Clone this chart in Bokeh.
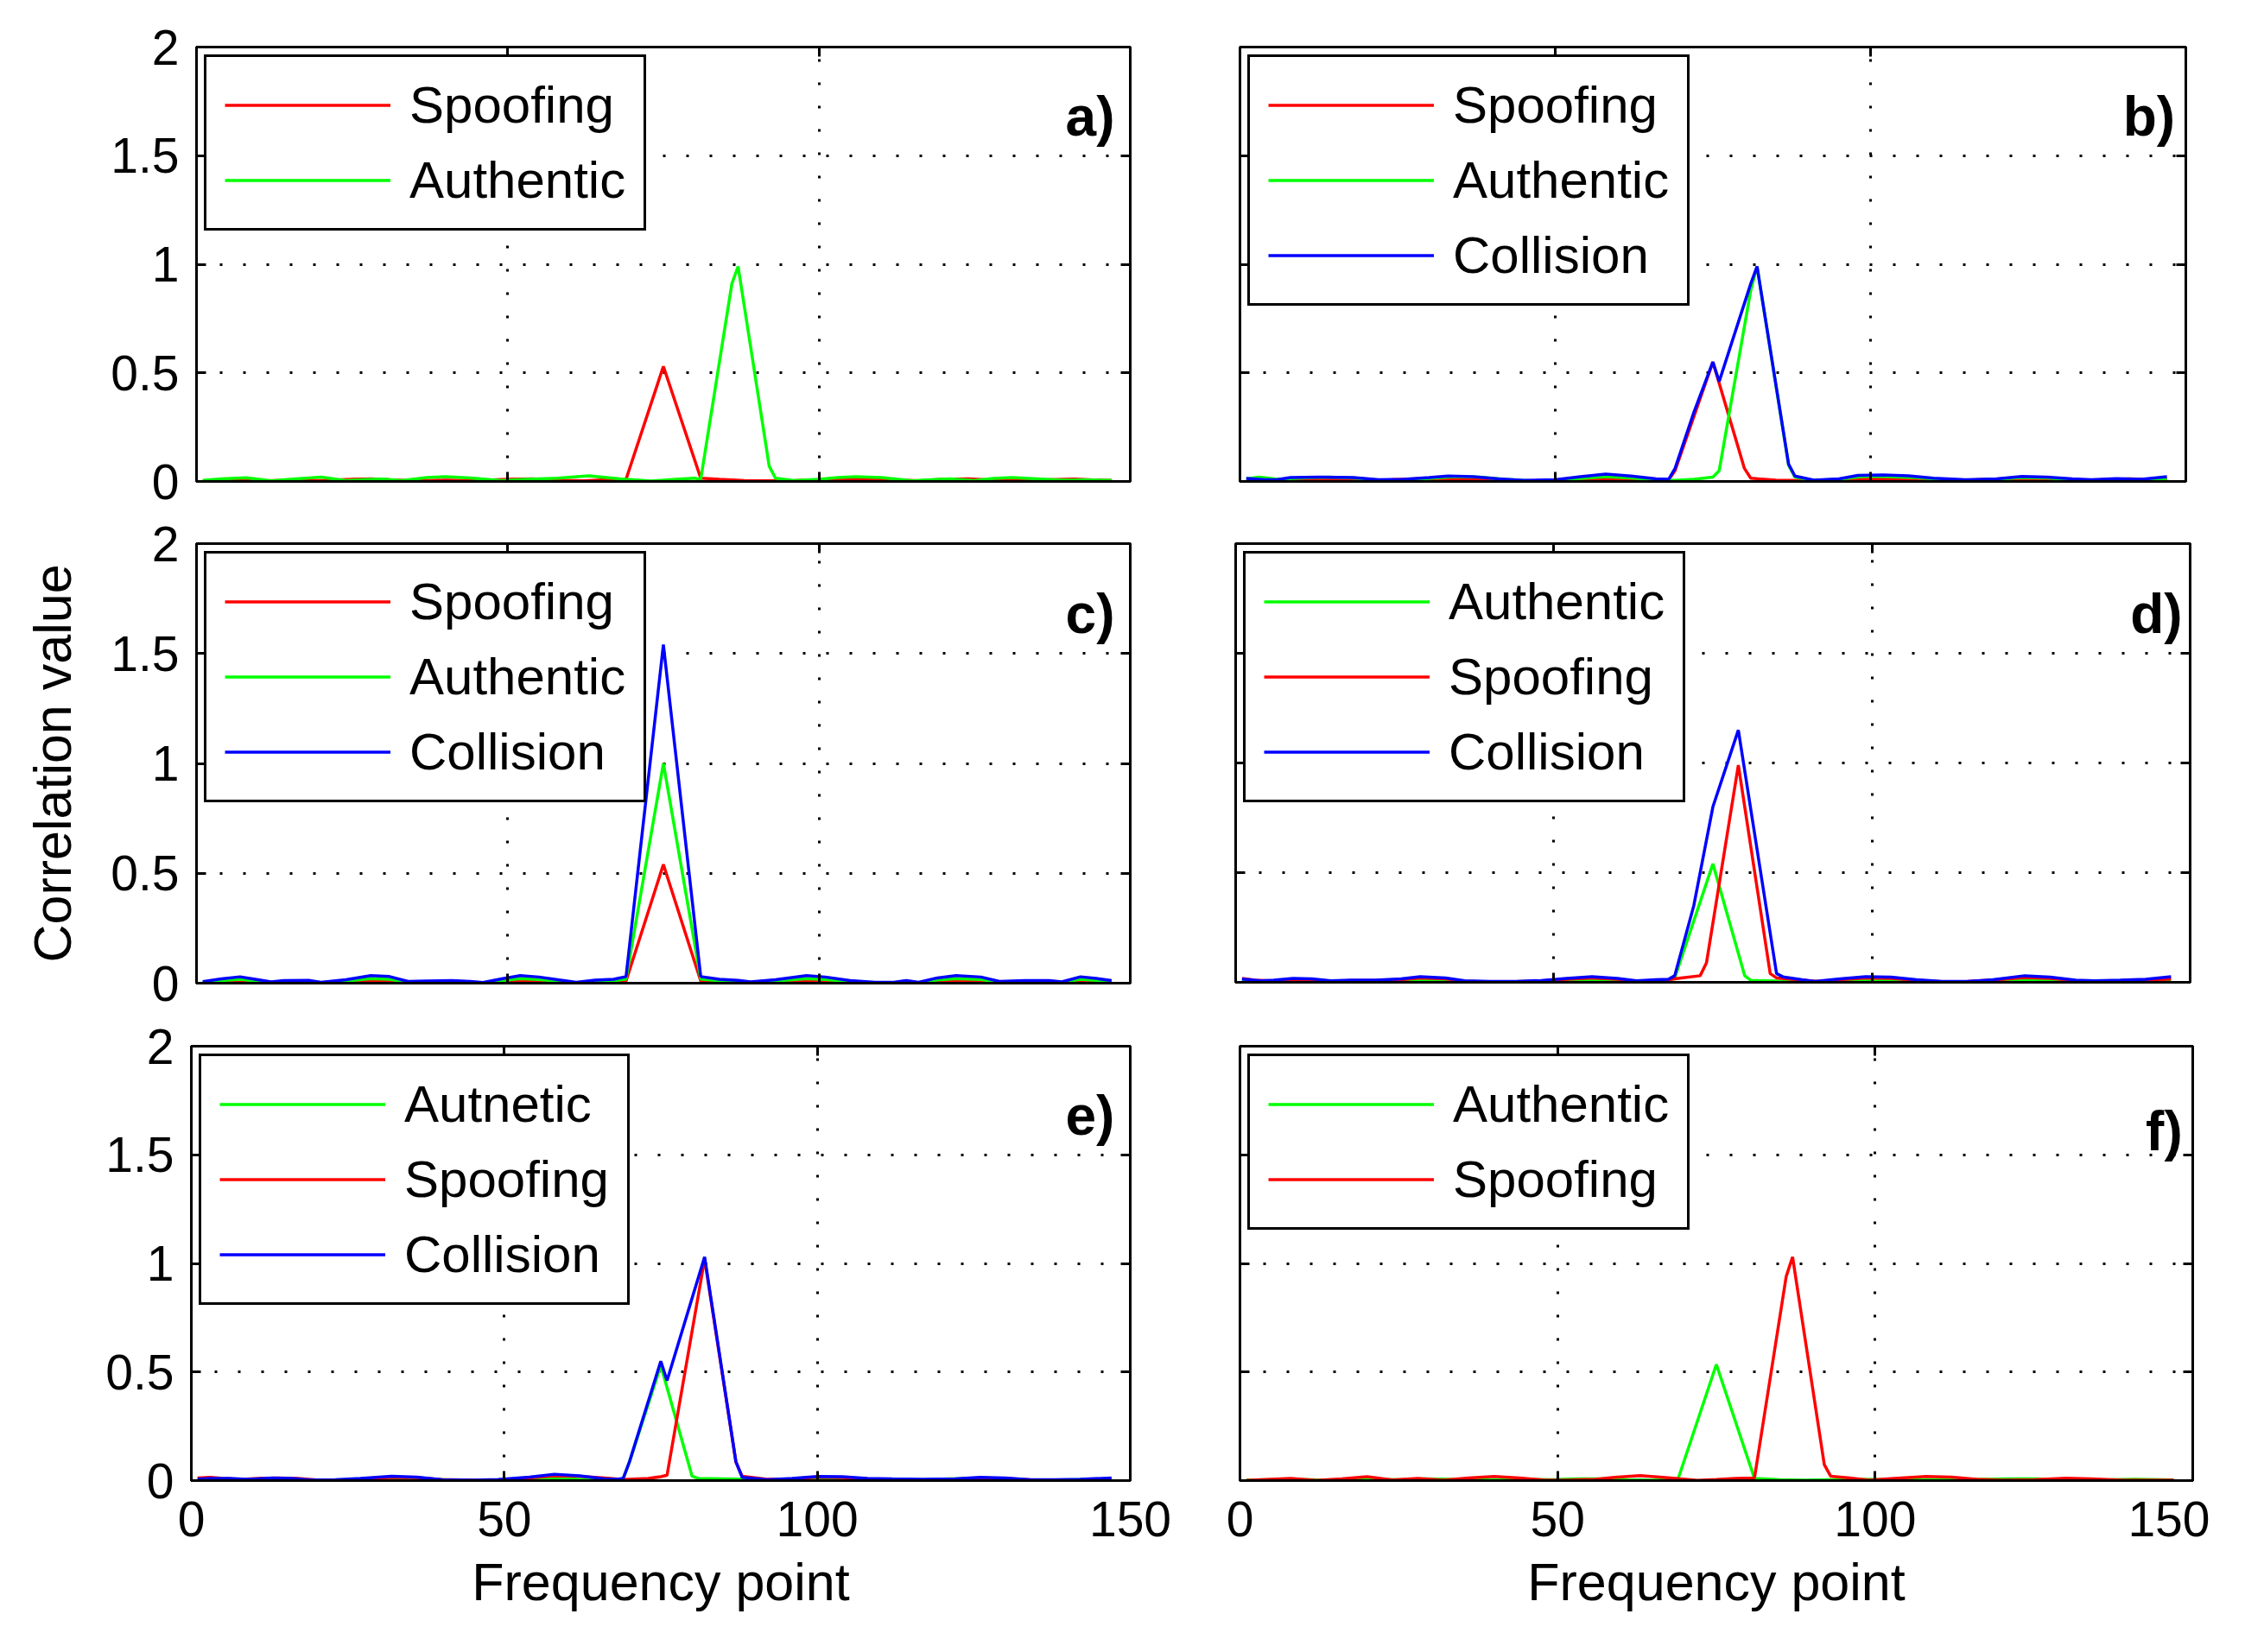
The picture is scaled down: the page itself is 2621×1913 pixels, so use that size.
from bokeh.plotting import figure
from bokeh.layouts import column, row
from bokeh.models import Range1d, FixedTicker, Legend, LegendItem, Label, LinearAxis
from bokeh.embed import file_html
from bokeh.resources import INLINE

RED = "#ff0000"
GREEN = "#00ff00"
BLUE = "#0000ff"
FONT = "Liberation Sans"

X_TICKS = [0, 50, 100, 150]
X_TICK_LABELS = ["0", "50", "100", "150"]
Y_TICKS = [0, 0.5, 1, 1.5, 2]
Y_TICK_LABELS = ["0", "0.5", "1", "1.5", "2"]
X_GRID = [50, 100]
Y_GRID = [0.5, 1, 1.5]

# ---------------- panel a ----------------
A_SPOOF_X = [1, 6, 10, 15, 20, 25, 28, 31, 35, 40, 45, 50, 54, 58, 62, 66, 69, 75, 81, 84, 88, 92, 96, 100, 104, 108, 112, 116, 120, 124, 128, 132, 137, 141, 144, 147]
A_SPOOF_Y = [0.002, 0.004, 0.002, 0.006, 0.004, 0.01, 0.012, 0.008, 0.003, 0.006, 0.004, 0.01, 0.012, 0.006, 0.003, 0.008, 0.01, 0.53, 0.015, 0.01, 0.004, 0.003, 0.004, 0.008, 0.012, 0.013, 0.008, 0.003, 0.01, 0.012, 0.006, 0.003, 0.008, 0.011, 0.007, 0.005]
A_AUTH_X = [1, 4, 8, 12, 16, 20, 24, 28, 30, 33, 37, 40, 44, 49, 53, 58, 63, 68, 73, 77, 80, 81, 86, 87, 92, 93, 96, 100, 103, 106, 110, 115, 118, 121, 125, 128, 131, 135, 139, 143, 147]
A_AUTH_Y = [0.005, 0.012, 0.017, 0.003, 0.012, 0.02, 0.004, 0.01, 0.011, 0.004, 0.018, 0.022, 0.016, 0.004, 0.01, 0.015, 0.026, 0.012, 0.002, 0.01, 0.015, 0.01, 0.91, 0.99, 0.07, 0.015, 0.004, 0.01, 0.018, 0.022, 0.018, 0.003, 0.008, 0.012, 0.004, 0.014, 0.018, 0.012, 0.006, 0.007, 0.005]

# ---------------- panel b ----------------
B_SPOOF_X = [1, 5, 9, 14, 19, 24, 28, 32, 36, 40, 45, 50, 54, 58, 62, 66, 68, 69, 75, 80, 81, 85, 89, 93, 97, 101, 105, 109, 113, 117, 121, 125, 129, 133, 137, 141, 144, 147]
B_SPOOF_Y = [0.004, 0.002, 0.006, 0.008, 0.004, 0.008, 0.012, 0.01, 0.012, 0.006, 0.003, 0.006, 0.01, 0.014, 0.008, 0.004, 0.008, 0.05, 0.55, 0.06, 0.015, 0.006, 0.004, 0.004, 0.008, 0.012, 0.012, 0.008, 0.004, 0.008, 0.012, 0.012, 0.008, 0.004, 0.008, 0.012, 0.01, 0.012]
B_AUTH_X = [1, 3, 6, 10, 14, 18, 22, 26, 30, 34, 38, 42, 46, 50, 54, 58, 62, 66, 69, 72, 75, 76, 81, 82, 87, 88, 91, 95, 99, 103, 107, 111, 116, 120, 124, 128, 132, 136, 140, 144, 147]
B_AUTH_Y = [0.012, 0.02, 0.01, 0.016, 0.02, 0.016, 0.006, 0.006, 0.014, 0.022, 0.02, 0.01, 0.003, 0.004, 0.014, 0.022, 0.016, 0.008, 0.005, 0.01, 0.02, 0.05, 0.88, 0.99, 0.075, 0.02, 0.005, 0.01, 0.024, 0.022, 0.018, 0.01, 0.006, 0.01, 0.018, 0.016, 0.008, 0.006, 0.01, 0.004, 0.01]
B_COLL_X = [1, 4, 6, 8, 13, 18, 22, 26, 30, 33, 37, 41, 45, 50, 54, 58, 62, 66, 68, 69, 72, 75, 76, 81, 82, 87, 88, 91, 95, 98, 102, 106, 110, 115, 120, 124, 128, 132, 135, 139, 143, 147]
B_COLL_Y = [0.014, 0.008, 0.009, 0.018, 0.02, 0.018, 0.008, 0.01, 0.018, 0.025, 0.022, 0.012, 0.005, 0.008, 0.022, 0.034, 0.025, 0.012, 0.01, 0.06, 0.32, 0.55, 0.46, 0.91, 0.99, 0.08, 0.025, 0.006, 0.012, 0.028, 0.03, 0.026, 0.015, 0.008, 0.012, 0.023, 0.02, 0.012, 0.008, 0.013, 0.01, 0.022]

# ---------------- panel c ----------------
C_X = [1, 4, 7, 9, 12, 14, 18, 20, 24, 28, 31, 34, 37, 41, 44, 46, 49, 52, 55, 59, 61, 64, 67, 69, 75, 81, 84, 87, 89, 93, 98, 101, 105, 109, 112, 114, 116, 119, 122, 126, 129, 133, 137, 139, 142, 145, 147]
C_SPOOF_Y = [0.002, 0.006, 0.009, 0.006, 0.002, 0.004, 0.004, 0.001, 0.005, 0.011, 0.009, 0.003, 0.003, 0.004, 0.003, 0.001, 0.006, 0.011, 0.009, 0.004, 0.001, 0.004, 0.006, 0.01, 0.54, 0.01, 0.006, 0.004, 0.002, 0.005, 0.011, 0.009, 0.004, 0.001, 0.001, 0.004, 0.001, 0.008, 0.011, 0.009, 0.003, 0.004, 0.004, 0.002, 0.009, 0.006, 0.004]
C_AUTH_Y = [0.004, 0.012, 0.018, 0.012, 0.004, 0.007, 0.008, 0.002, 0.01, 0.021, 0.018, 0.005, 0.006, 0.007, 0.005, 0.002, 0.012, 0.021, 0.017, 0.007, 0.002, 0.009, 0.011, 0.019, 1.0, 0.019, 0.011, 0.008, 0.004, 0.01, 0.021, 0.017, 0.007, 0.002, 0.002, 0.007, 0.002, 0.015, 0.021, 0.017, 0.005, 0.007, 0.007, 0.004, 0.018, 0.012, 0.007]
C_COLL_Y = [0.007, 0.02, 0.029, 0.02, 0.006, 0.012, 0.013, 0.004, 0.016, 0.034, 0.03, 0.008, 0.01, 0.012, 0.008, 0.003, 0.02, 0.034, 0.028, 0.012, 0.004, 0.014, 0.018, 0.03, 1.54, 0.03, 0.018, 0.013, 0.006, 0.016, 0.034, 0.028, 0.012, 0.004, 0.004, 0.012, 0.004, 0.024, 0.034, 0.028, 0.008, 0.012, 0.012, 0.006, 0.029, 0.02, 0.012]

# ---------------- panel d ----------------
D_AUTH_X = [1, 4, 7, 10, 14, 18, 22, 26, 30, 34, 38, 42, 46, 50, 54, 58, 62, 66, 68, 69, 75, 80, 81, 85, 89, 93, 97, 101, 105, 109, 113, 117, 121, 125, 129, 133, 137, 141, 144, 147]
D_AUTH_Y = [0.004, 0.002, 0.004, 0.008, 0.006, 0.002, 0.003, 0.006, 0.01, 0.007, 0.002, 0.001, 0.002, 0.005, 0.009, 0.011, 0.006, 0.003, 0.005, 0.02, 0.54, 0.03, 0.008, 0.006, 0.005, 0.003, 0.006, 0.01, 0.008, 0.004, 0.002, 0.003, 0.007, 0.012, 0.01, 0.004, 0.002, 0.005, 0.007, 0.008]
D_SPOOF_X = [1, 3, 6, 9, 12, 15, 18, 22, 26, 29, 33, 36, 40, 44, 48, 52, 56, 60, 63, 66, 68, 70, 73, 74, 79, 84, 85, 89, 92, 95, 99, 103, 107, 111, 115, 119, 124, 128, 132, 135, 139, 143, 147]
D_SPOOF_Y = [0.018, 0.01, 0.006, 0.014, 0.012, 0.004, 0.008, 0.008, 0.012, 0.02, 0.016, 0.005, 0.002, 0.003, 0.006, 0.014, 0.02, 0.014, 0.005, 0.008, 0.012, 0.02, 0.03, 0.09, 0.99, 0.04, 0.02, 0.01, 0.003, 0.012, 0.02, 0.018, 0.009, 0.003, 0.004, 0.01, 0.022, 0.018, 0.008, 0.005, 0.007, 0.01, 0.015]
D_COLL_X = [1, 4, 6, 9, 12, 15, 18, 22, 26, 29, 33, 36, 40, 44, 48, 52, 56, 60, 63, 66, 68, 69, 72, 75, 79, 85, 86, 89, 91, 95, 99, 103, 107, 111, 115, 119, 124, 128, 132, 135, 139, 143, 147]
D_COLL_Y = [0.015, 0.007, 0.01, 0.018, 0.016, 0.007, 0.01, 0.01, 0.016, 0.026, 0.02, 0.007, 0.004, 0.004, 0.008, 0.018, 0.026, 0.018, 0.007, 0.012, 0.014, 0.03, 0.35, 0.8, 1.15, 0.04, 0.025, 0.012, 0.004, 0.016, 0.026, 0.024, 0.012, 0.004, 0.004, 0.012, 0.03, 0.024, 0.01, 0.007, 0.01, 0.014, 0.026]

# ---------------- panel e ----------------
E_AUTH_X = [1, 5, 9, 13, 17, 21, 25, 29, 33, 37, 41, 45, 49, 53, 57, 61, 65, 68, 69, 70, 75, 80, 81, 85, 89, 93, 97, 101, 105, 109, 113, 117, 121, 125, 129, 133, 137, 141, 145, 147]
E_AUTH_Y = [0.003, 0.002, 0.004, 0.006, 0.004, 0.001, 0.002, 0.006, 0.01, 0.008, 0.003, 0.001, 0.002, 0.005, 0.009, 0.007, 0.003, 0.004, 0.01, 0.087, 0.53, 0.02, 0.01, 0.008, 0.006, 0.002, 0.004, 0.008, 0.007, 0.004, 0.002, 0.004, 0.008, 0.009, 0.006, 0.003, 0.002, 0.004, 0.006, 0.005]
E_SPOOF_X = [1, 3, 5, 8, 11, 14, 17, 20, 24, 28, 32, 36, 40, 45, 49, 53, 58, 62, 66, 69, 73, 75, 76, 82, 87, 88, 92, 96, 100, 104, 108, 112, 117, 122, 126, 130, 134, 138, 142, 147]
E_SPOOF_Y = [0.012, 0.015, 0.01, 0.006, 0.01, 0.012, 0.01, 0.003, 0.002, 0.008, 0.015, 0.014, 0.005, 0.002, 0.003, 0.01, 0.022, 0.02, 0.012, 0.005, 0.01, 0.018, 0.025, 1.02, 0.085, 0.02, 0.006, 0.008, 0.016, 0.014, 0.008, 0.004, 0.003, 0.006, 0.012, 0.01, 0.004, 0.003, 0.004, 0.008]
E_COLL_X = [1, 3, 6, 9, 13, 16, 19, 23, 27, 32, 36, 40, 45, 49, 54, 58, 62, 66, 68, 69, 70, 75, 76, 82, 87, 88, 92, 96, 100, 104, 108, 112, 117, 122, 126, 130, 134, 138, 142, 147]
E_COLL_Y = [0.007, 0.01, 0.01, 0.006, 0.012, 0.01, 0.003, 0.004, 0.01, 0.02, 0.016, 0.004, 0.002, 0.005, 0.016, 0.029, 0.022, 0.008, 0.006, 0.01, 0.087, 0.55, 0.46, 1.03, 0.087, 0.015, 0.004, 0.01, 0.019, 0.018, 0.01, 0.008, 0.006, 0.008, 0.015, 0.012, 0.004, 0.004, 0.006, 0.012]

# ---------------- panel f ----------------
F_AUTH_X = [1, 5, 9, 13, 17, 21, 25, 29, 33, 37, 41, 45, 49, 53, 57, 61, 65, 68, 69, 75, 81, 85, 89, 93, 97, 101, 105, 109, 113, 117, 121, 125, 129, 133, 137, 141, 145, 147]
F_AUTH_Y = [0.002, 0.004, 0.006, 0.002, 0.004, 0.006, 0.004, 0.008, 0.006, 0.003, 0.004, 0.006, 0.004, 0.008, 0.008, 0.004, 0.002, 0.004, 0.01, 0.535, 0.01, 0.004, 0.002, 0.004, 0.006, 0.005, 0.003, 0.004, 0.005, 0.006, 0.008, 0.008, 0.005, 0.003, 0.004, 0.006, 0.004, 0.003]
F_SPOOF_X = [1, 4, 8, 12, 16, 20, 24, 28, 32, 36, 40, 44, 48, 52, 56, 59, 63, 67, 72, 75, 78, 81, 86, 87, 92, 93, 96, 99, 103, 108, 112, 116, 120, 125, 130, 134, 139, 143, 147]
F_SPOOF_Y = [0.001, 0.005, 0.01, 0.001, 0.008, 0.018, 0.003, 0.01, 0.002, 0.012, 0.019, 0.012, 0.002, 0.003, 0.006, 0.015, 0.023, 0.014, 0.001, 0.005, 0.01, 0.012, 0.94, 1.03, 0.073, 0.02, 0.012, 0.002, 0.01, 0.019, 0.016, 0.006, 0.002, 0.004, 0.011, 0.008, 0.002, 0.002, 0.002]

LW = 3.5


def style_axis(ax):
    ax.axis_line_color = "black"
    ax.axis_line_width = 3
    ax.major_tick_in = 11
    ax.major_tick_out = 0
    ax.major_tick_line_width = 3
    ax.major_tick_line_color = "black"
    ax.minor_tick_line_color = None
    ax.major_label_text_font = FONT
    ax.major_label_text_color = "black"
    ax.axis_label_text_font = FONT
    ax.axis_label_text_font_style = "normal"
    ax.axis_label_text_color = "black"


def hide_labels(ax, ticks):
    ax.major_label_text_font_size = "0px"
    ax.major_label_standoff = 0
    ax.major_label_overrides = {t: "" for t in ticks}


def make_panel(series, tag, frame_w, frame_h, borders, tag_y=1.68, tag_x=147.5,
               show_x_labels=False, show_y_labels=False, xlabel=None, ylabel=None):
    bl, br, bt, bb = borders
    p = figure(frame_width=frame_w, frame_height=frame_h, output_backend="svg",
               toolbar_location=None, x_range=Range1d(0, 150), y_range=Range1d(0, 2),
               min_border_left=bl, min_border_right=br, min_border_top=bt,
               min_border_bottom=bb, background_fill_color="white",
               border_fill_color="white")
    p.outline_line_color = "black"
    p.outline_line_width = 3
    p.outline_line_alpha = 1

    # grid
    p.xgrid.ticker = FixedTicker(ticks=X_GRID)
    p.ygrid.ticker = FixedTicker(ticks=Y_GRID)
    for g in (p.xgrid, p.ygrid):
        g.grid_line_color = "black"
        g.grid_line_width = 3
        g.grid_line_dash = "3 24"
        g.grid_line_alpha = 1

    # axes
    xb = p.below[0]
    yl = p.left[0]
    xb.ticker = FixedTicker(ticks=X_TICKS)
    yl.ticker = FixedTicker(ticks=Y_TICKS)
    xt = LinearAxis(ticker=FixedTicker(ticks=X_TICKS))
    yr = LinearAxis(ticker=FixedTicker(ticks=Y_TICKS))
    p.add_layout(yr, "right")
    p.add_layout(xt, "above")
    for ax in (xb, yl, xt, yr):
        style_axis(ax)
    hide_labels(xt, X_TICKS)
    hide_labels(yr, Y_TICKS)

    if show_x_labels:
        xb.major_label_overrides = {t: l for t, l in zip(X_TICKS, X_TICK_LABELS)}
        xb.major_label_text_font_size = "57px"
        xb.major_label_standoff = 24
    else:
        hide_labels(xb, X_TICKS)
    if show_y_labels:
        yl.major_label_overrides = {t: l for t, l in zip(Y_TICKS, Y_TICK_LABELS)}
        yl.major_label_text_font_size = "57px"
        yl.major_label_standoff = 20
    else:
        hide_labels(yl, Y_TICKS)
    if xlabel:
        xb.axis_label = xlabel
        xb.axis_label_text_font_size = "61px"
        xb.axis_label_standoff = 16
    if ylabel:
        yl.axis_label = ylabel
        yl.axis_label_text_font_size = "61px"
        yl.axis_label_standoff = 30

    items = []
    for label, xs, ys, color in series:
        r = p.line(xs, ys, line_color=color, line_width=LW)
        items.append(LegendItem(label=label, renderers=[r]))

    legend = Legend(items=items, location="top_left", margin=9, padding=21,
                    spacing=18, label_height=67, glyph_height=67, glyph_width=192,
                    label_standoff=22, label_text_font=FONT,
                    label_text_font_size="60px", label_text_color="black",
                    border_line_color="black", border_line_width=3,
                    border_line_alpha=1, background_fill_color="white",
                    background_fill_alpha=1)
    p.add_layout(legend)

    p.add_layout(Label(x=tag_x, y=tag_y, text=tag, text_align="right",
                       text_baseline="alphabetic", text_font=FONT,
                       text_font_style="bold", text_font_size="64px",
                       text_color="black"))
    return p


pa = make_panel([("Spoofing", A_SPOOF_X, A_SPOOF_Y, RED),
                 ("Authentic", A_AUTH_X, A_AUTH_Y, GREEN)],
                "a)", 1081, 503, (227, 60, 54, 40), show_y_labels=True)
pb = make_panel([("Spoofing", B_SPOOF_X, B_SPOOF_Y, RED),
                 ("Authentic", B_AUTH_X, B_AUTH_Y, GREEN),
                 ("Collision", B_COLL_X, B_COLL_Y, BLUE)],
                "b)", 1095, 503, (67, 20, 54, 40), tag_x=148.3)
pc = make_panel([("Spoofing", C_X, C_SPOOF_Y, RED),
                 ("Authentic", C_X, C_AUTH_Y, GREEN),
                 ("Collision", C_X, C_COLL_Y, BLUE)],
                "c)", 1081, 509, (227, 60, 32, 40), show_y_labels=True,
                ylabel="Correlation value")
pd_ = make_panel([("Authentic", D_AUTH_X, D_AUTH_Y, GREEN),
                  ("Spoofing", D_SPOOF_X, D_SPOOF_Y, RED),
                  ("Collision", D_COLL_X, D_COLL_Y, BLUE)],
                 "d)", 1105, 508, (62, 20, 28, 45), tag_x=148.8)
pe = make_panel([("Autnetic", E_AUTH_X, E_AUTH_Y, GREEN),
                 ("Spoofing", E_SPOOF_X, E_SPOOF_Y, RED),
                 ("Collision", E_COLL_X, E_COLL_Y, BLUE)],
                "e)", 1087, 503, (221, 60, 27, 180), show_y_labels=True,
                show_x_labels=True, xlabel="Frequency point")
pf = make_panel([("Authentic", F_AUTH_X, F_AUTH_Y, GREEN),
                 ("Spoofing", F_SPOOF_X, F_SPOOF_Y, RED)],
                "f)", 1103, 503, (67, 20, 33, 180), tag_x=148.4, tag_y=1.61,
                show_x_labels=True, xlabel="Frequency point")

layout = column(row(pa, pb), row(pc, pd_), row(pe, pf))

open("out.html", "w").write(file_html(layout, INLINE))
